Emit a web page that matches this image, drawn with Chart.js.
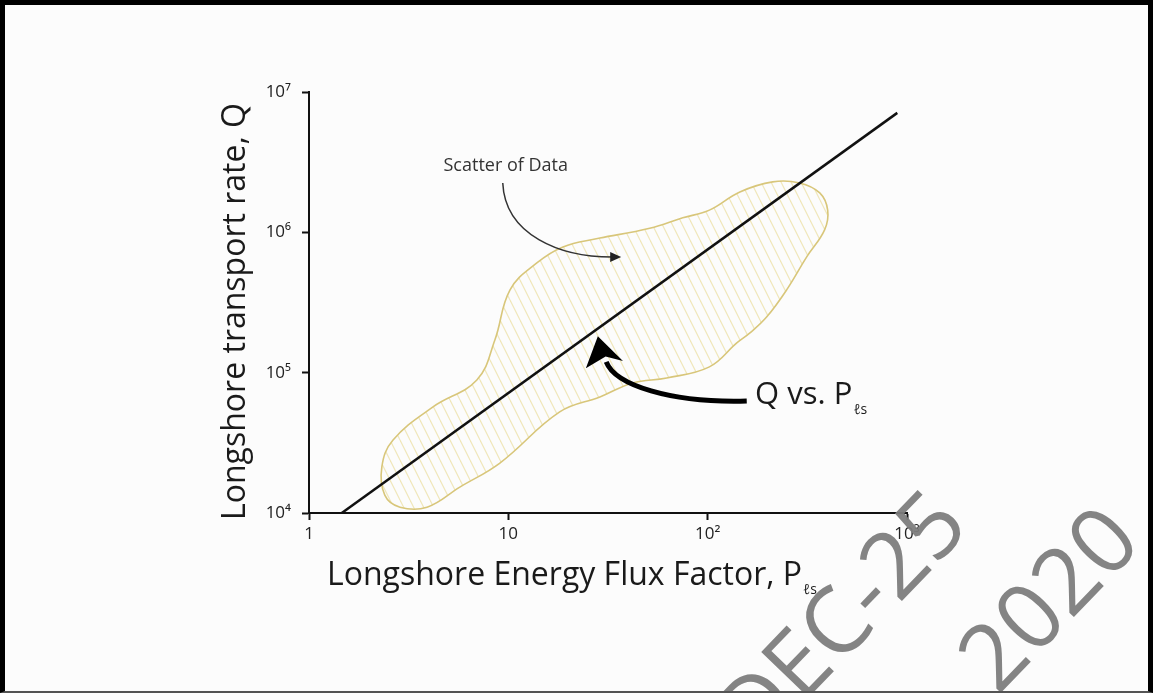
<!DOCTYPE html>
<html>
<head>
<meta charset="utf-8">
<script src="https://cdn.jsdelivr.net/npm/chart.js@4.4.1/dist/chart.umd.min.js"></script>
<style>
    html, body { margin: 0; padding: 0; background: #fcfcfc; }
    #wrap { position: relative; width: 1153px; height: 693px; }
    #frame {
        position: absolute; left: 0; top: 0; width: 1153px; height: 693px;
        box-sizing: border-box; border: 5px solid #000; border-bottom: 2px solid #555;
        pointer-events: none;
    }
</style>
</head>
<body>
<div id="wrap">
    <canvas id="flux_chart" width="1153" height="693"></canvas>
    <div id="frame"></div>
</div>
<script>
// axis ticks
const xTicks = [1, 10, 100, 1000];
const xTickLabels = ['1', '10', '10²', '10³'];
const yTicks = [1e4, 1e5, 1e6, 1e7];
const yTickLabels = ['10⁴', '10⁵', '10⁶', '10⁷'];

// Q vs. P fit line (end points)
const fitP = [1.46, 894];
const fitQ = [1.0e4, 7.1e6];

// outline of the scatter of data (closed)
const scatterP = [28.8, 51.2, 75.0, 102, 145, 212, 289, 365, 400, 386, 314, 249, 198, 163, 140, 102,
    62.3, 42.1, 28.8, 18.1, 9.07, 5.71, 3.91, 2.86, 2.40, 2.32, 2.64, 4.19, 6.95, 8.56, 10.2, 13.9, 18.8, 28.8];
const scatterQ = [9.12e5, 1.07e6, 1.27e6, 1.44e6, 1.94e6, 2.29e6, 2.25e6, 1.91e6, 1.44e6, 1.04e6, 6.68e5, 3.89e5,
    2.50e5, 1.92e5, 1.63e5, 1.10e5, 9.17e4, 8.45e4, 6.71e4, 5.25e4, 2.27e4, 1.53e4, 1.10e4, 1.10e4, 1.34e4,
    2.13e4, 3.31e4, 5.70e4, 8.87e4, 1.71e5, 3.89e5, 6.05e5, 7.87e5, 9.12e5];

const FONT = "'Open Sans', 'DejaVu Sans', sans-serif";

function makeHatch() {
    let c = document.createElement('canvas');
    c.width = 10;
    c.height = 20;
    let g = c.getContext('2d');
    g.strokeStyle = 'rgba(228, 210, 115, 0.5)';
    g.lineWidth = 1.1;
    [-10, 0, 10].forEach(function (off) {
        g.beginPath();
        g.moveTo(off, 0);
        g.lineTo(off + 10, 20);
        g.stroke();
    });
    return g.createPattern(c, 'repeat');
}

// titles, arrows, labels and the watermark
const annotations = {
    id: 'annotations',
    afterDatasetsDraw(chart) {
        const ctx = chart.ctx;
        const a = chart.chartArea;
        const at = (fx, fy) => [a.left + fx * (a.right - a.left), a.top + fy * (a.bottom - a.top)];
        ctx.save();

        // Scatter of Data label + thin arrow
        ctx.fillStyle = '#333';
        ctx.font = '18px ' + FONT;
        ctx.textAlign = 'center';
        ctx.textBaseline = 'middle';
        let p = at(0.329, 0.176);
        ctx.fillText('Scatter of Data', p[0], p[1]);

        ctx.strokeStyle = '#333';
        ctx.lineWidth = 1.5;
        let s = at(0.324, 0.216), c1 = at(0.328, 0.340), c2 = at(0.420, 0.392), e = at(0.507, 0.392);
        ctx.beginPath();
        ctx.moveTo(s[0], s[1]);
        ctx.bezierCurveTo(c1[0], c1[1], c2[0], c2[1], e[0], e[1]);
        ctx.stroke();
        ctx.beginPath();
        ctx.moveTo(e[0] + 9, e[1]);
        ctx.lineTo(e[0] - 2, e[1] - 5);
        ctx.lineTo(e[0] - 2, e[1] + 5);
        ctx.closePath();
        ctx.fillStyle = '#222';
        ctx.fill();

        // thick arrow to the fit line
        ctx.strokeStyle = '#000';
        ctx.fillStyle = '#000';
        ctx.lineWidth = 5;
        ctx.lineCap = 'butt';
        s = at(0.732, 0.734); c1 = at(0.604, 0.739); c2 = at(0.512, 0.696); e = at(0.497, 0.641);
        ctx.beginPath();
        ctx.moveTo(s[0], s[1]);
        ctx.bezierCurveTo(c1[0], c1[1], c2[0], c2[1], e[0], e[1]);
        ctx.stroke();
        let tip = at(0.483, 0.580), wl = at(0.463, 0.656), wr = at(0.525, 0.639), nk = at(0.496, 0.628);
        ctx.beginPath();
        ctx.moveTo(tip[0], tip[1]);
        ctx.lineTo(wl[0], wl[1]);
        ctx.lineTo(nk[0], nk[1]);
        ctx.lineTo(wr[0], wr[1]);
        ctx.closePath();
        ctx.fill();

        // Q vs. P label
        ctx.fillStyle = '#1a1a1a';
        ctx.textAlign = 'left';
        ctx.textBaseline = 'alphabetic';
        ctx.font = '31px ' + FONT;
        p = at(0.746, 0.741);
        ctx.fillText('Q vs. P', p[0], p[1]);
        let w = ctx.measureText('Q vs. P').width;
        ctx.font = '14px ' + FONT;
        ctx.fillText('ℓs', p[0] + w + 1, p[1] + 10);

        // axis titles
        ctx.font = '32px ' + FONT;
        let xt = 'Longshore Energy Flux Factor, P';
        ctx.fillText(xt, a.left + 18, a.bottom + 72);
        w = ctx.measureText(xt).width;
        ctx.font = '14px ' + FONT;
        ctx.fillText('ℓs', a.left + 18 + w + 1, a.bottom + 81);

        ctx.save();
        ctx.translate(a.left - 64, (a.top + a.bottom) / 2 + 9);
        ctx.rotate(-Math.PI / 2);
        ctx.textAlign = 'center';
        ctx.font = '32px ' + FONT;
        ctx.fillText('Longshore transport rate, Q', 0, 0);
        ctx.restore();

        ctx.restore();
    },
    afterDraw(chart) {
        const ctx = chart.ctx;
        [['DEC-25', 845, 622], ['2020', 1052, 602]].forEach(function (wm) {
            ctx.save();
            ctx.fillStyle = 'rgba(125, 125, 125, 0.95)';
            ctx.font = '92px ' + FONT;
            ctx.textAlign = 'center';
            ctx.textBaseline = 'middle';
            ctx.translate(wm[1], wm[2]);
            ctx.rotate(-46 * Math.PI / 180);
            ctx.fillText(wm[0], 0, 0);
            ctx.restore();
        });
    }
};

const axisLine = { display: true, color: '#111', width: 2 };
const axisGrid = { display: true, drawOnChartArea: false, drawTicks: true, tickLength: 7, tickColor: '#111', tickWidth: 2 };

let flux_chart = document.getElementById('flux_chart').getContext('2d');
new Chart(flux_chart, {
    type: 'scatter',
    data: {
        datasets: [
            {
                label: 'Q vs. P',
                data: fitP.map((v, i) => ({ x: v, y: fitQ[i] })),
                showLine: true,
                borderColor: '#111',
                borderWidth: 2.5,
                pointRadius: 0,
                fill: false,
                order: 0,
            },
            {
                label: 'Scatter of Data',
                data: scatterP.map((v, i) => ({ x: v, y: scatterQ[i] })),
                showLine: true,
                borderColor: '#d8c67a',
                borderWidth: 1.6,
                backgroundColor: makeHatch(),
                fill: 'shape',
                tension: 0.4,
                pointRadius: 0,
                order: 1,
            }
        ],
    },
    options: {
        responsive: false,
        animation: false,
        layout: { padding: { top: 92, right: 246, bottom: 120, left: 0 } },
        plugins: {
            legend: { display: false },
            tooltip: { enabled: false },
        },
        scales: {
            x: {
                type: 'logarithmic',
                min: 1,
                max: 1000,
                afterBuildTicks: s => { s.ticks = xTicks.map(v => ({ value: v })); },
                afterFit: s => { s.height = 60; },
                ticks: {
                    callback: (v, i) => xTickLabels[i],
                    font: { family: FONT, size: 17 },
                    color: '#222',
                    padding: 4,
                    maxRotation: 0,
                    autoSkip: false,
                },
                grid: axisGrid,
                border: axisLine,
            },
            y: {
                type: 'logarithmic',
                min: 1e4,
                max: 1e7,
                afterBuildTicks: s => { s.ticks = yTicks.map(v => ({ value: v })); },
                afterFit: s => { s.width = 309; },
                ticks: {
                    callback: (v, i) => yTickLabels[i],
                    font: { family: FONT, size: 17 },
                    color: '#222',
                    padding: 11,
                    autoSkip: false,
                },
                grid: axisGrid,
                border: axisLine,
            }
        }
    },
    plugins: [annotations]
});
</script>
</body>
</html>
